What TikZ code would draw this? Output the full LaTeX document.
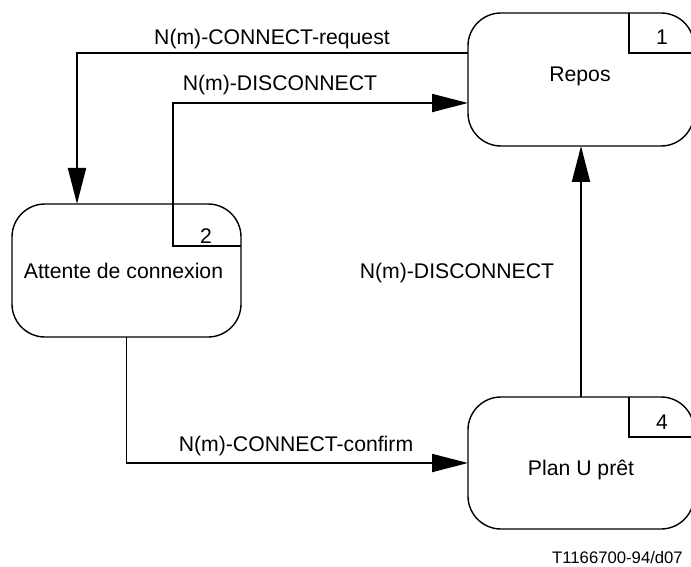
\documentclass[tikz,border=0pt]{standalone}
\usepackage{fontspec}
\setmainfont{Liberation Sans}
\usetikzlibrary{arrows.meta}
\begin{document}
\begin{tikzpicture}[x=1pt,y=-1pt,
  statebox/.style={draw, line width=1.4pt, rectangle, rounded corners=33pt, inner sep=0pt, outer sep=0pt},
  numbox/.style={rectangle, inner sep=0pt, outer sep=0pt},
  numline/.style={line width=1.8pt},
  conn/.style={line width=1.9pt},
  arr/.style={conn, -{Triangle[length=36pt,width=18pt]}},
  txt/.style={font=\fontsize{21.2}{25}\selectfont, inner sep=0pt, anchor=base},
  foot/.style={font=\fontsize{16.7}{20}\selectfont, inner sep=0pt, anchor=base east}]
\useasboundingbox (0,0) rectangle (691,567);

% state boxes
\node[statebox, minimum width=226pt, minimum height=133pt] (repos) at (581,79.5) {};
\node[statebox, minimum width=229pt, minimum height=133pt] (attente) at (126.5,270.5) {};
\node[statebox, minimum width=226pt, minimum height=132pt] (plan) at (581,463) {};

% number boxes
\node[numbox, minimum width=65pt, minimum height=40pt] (num1) at (661.5,33) {};
\node[numbox, minimum width=68pt, minimum height=42pt] (num2) at (207,225) {};
\node[numbox, minimum width=65pt, minimum height=40pt] (num4) at (661.5,417) {};
\draw[numline] (num1.north west) -- (num1.south west) -- (num1.south east);
\draw[numline] (num2.north west) -- (num2.south west) -- (num2.south east);
\draw[numline] (num4.north west) -- (num4.south west) -- (num4.south east);

% texts
\node[txt] (treposs) at (580,82) {Repos};
\node[txt] (tattente) at (123.5,278) {Attente de connexion};
\node[txt] (tplan) at (581,475) {Plan U prêt};
\node[txt] (t1) at (662,45) {1};
\node[txt] (t2) at (206,243) {2};
\node[txt] (t4) at (662,429) {4};

% connectors
\coordinate (reqc) at (77,53);
\coordinate (discc) at (173,103);
\draw[arr] (repos.west |- num1.south) -- (reqc) -- (attente.north -| reqc);
\draw[arr] (num2.south west) -- (discc) -- (repos.west |- discc);
\draw[arr] (plan.north) -- (repos.south);
\draw[arr] (attente.south) |- (plan.west);

% connector labels
\node[txt] (lreq) at (272,45) {N(m)-CONNECT-request};
\node[txt] (ldisc1) at (280,91) {N(m)-DISCONNECT};
\node[txt] (ldisc2) at (457,278) {N(m)-DISCONNECT};
\node[txt] (lconf) at (296,451) {N(m)-CONNECT-confirm};

\node[foot] (footer) at (683,563.5) {T1166700-94/d07};
\end{tikzpicture}
\end{document}
